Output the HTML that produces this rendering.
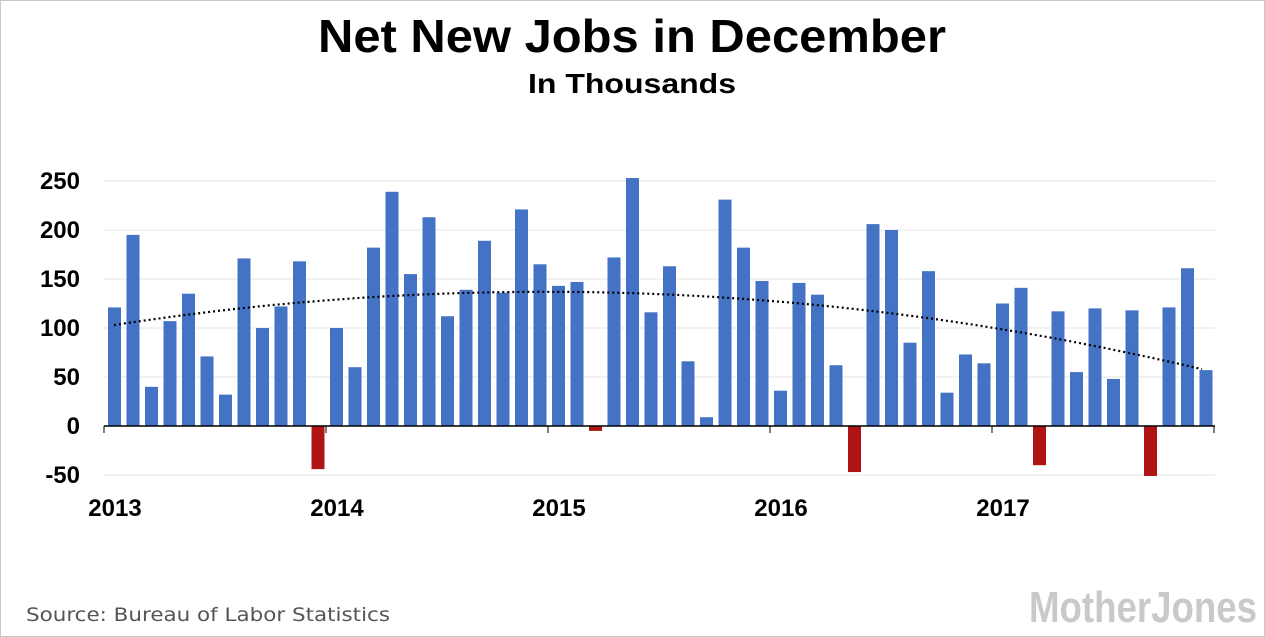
<!DOCTYPE html>
<html><head><meta charset="utf-8"><style>
body{margin:0;background:#fff;}
svg{display:block;font-family:"Liberation Sans",sans-serif;}
</style></head><body>
<svg id="s" width="1265" height="637" viewBox="0 0 1265 637">
<rect x="0.5" y="0.5" width="1264" height="636" fill="#fff" stroke="#c8c8c8"/>
<text x="632" y="52" text-anchor="middle" font-size="46" font-weight="bold" fill="#000" textLength="628" lengthAdjust="spacingAndGlyphs">Net New Jobs in December</text>
<text x="632" y="93" text-anchor="middle" font-size="28" font-weight="bold" fill="#000" textLength="208" lengthAdjust="spacingAndGlyphs">In Thousands</text>
<g id="grid" stroke="#e4e4e4" stroke-width="1"></g>
<g id="bars"></g>
<g id="lab" font-size="24" font-weight="bold" fill="#000"></g>
<polyline id="trend" fill="none" stroke="#000" stroke-width="2.2" stroke-dasharray="2,3"/>
<text x="26" y="621" font-family="DejaVu Sans, sans-serif" font-size="19" fill="#555" textLength="364" lengthAdjust="spacingAndGlyphs">Source: Bureau of Labor Statistics</text>
<text x="1257" y="622" text-anchor="end" font-size="44" font-weight="bold" fill="#c9c9c9" textLength="228" lengthAdjust="spacingAndGlyphs">MotherJones</text>
</svg>
<script>
var v=[121,195,40,107,135,71,32,171,100,122,168,-44,
100,60,182,239,155,213,112,139,189,136,221,165,
143,147,-5,172,253,116,163,66,9,231,182,148,
36,146,134,62,-47,206,200,85,158,34,73,64,
125,141,-40,117,55,120,48,118,-51,121,161,57];
var ns="http://www.w3.org/2000/svg";
function el(p,t,a,txt){var e=document.createElementNS(ns,t);for(var k in a)e.setAttribute(k,a[k]);if(txt!=null)e.textContent=txt;document.getElementById(p).appendChild(e);return e;}
var y0=426,k=0.98;
[-50,50,100,150,200,250].forEach(function(t){var y=y0-t*k;el("grid","line",{x1:104,x2:1215,y1:y,y2:y});});
[-50,0,50,100,150,200,250].forEach(function(t){el("lab","text",{x:80,y:y0-t*k+8,"text-anchor":"end"},t);});
v.forEach(function(d,i){var x=108+18.5*i;var h=Math.abs(d)*k;el("bars","rect",{x:x,y:d>=0?y0-h:y0,width:13,height:h,fill:d>=0?"#4472c4":"#b01414"});});
el("bars","line",{x1:104,x2:1215,y1:y0,y2:y0,stroke:"#000","stroke-width":1.5});
for(var j=0;j<=5;j++){var x=104+222*j;el("bars","line",{x1:x,x2:x,y1:y0,y2:y0+7,stroke:"#000","stroke-width":1});}
["2013","2014","2015","2016","2017"].forEach(function(t,j){el("lab","text",{x:115+222*j,y:516,"text-anchor":"middle"},t);});
var pts=[];for(var x=114;x<=1206;x+=8){var u=(x-114)/(1206-114);var val=103+172*u-218*u*u;pts.push(x+","+(y0-val*k).toFixed(1));}
document.getElementById("trend").setAttribute("points",pts.join(" "));
</script>
</body></html>
